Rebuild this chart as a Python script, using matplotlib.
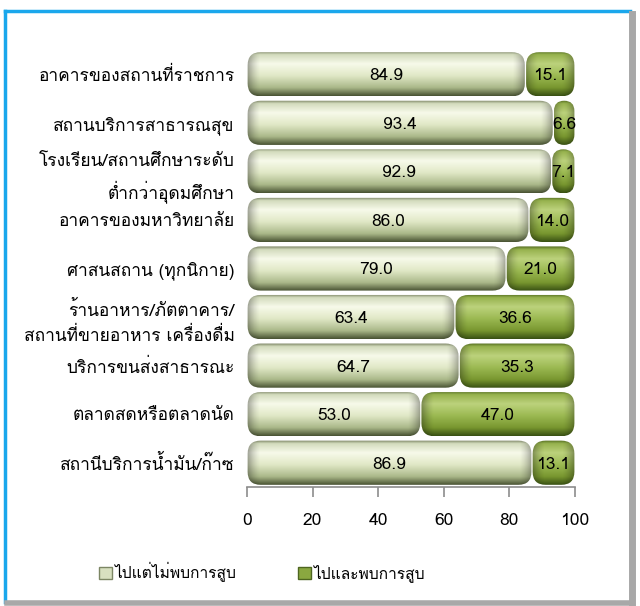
import matplotlib
matplotlib.use("Agg")
import matplotlib.pyplot as plt
import numpy as np
from matplotlib.colors import LinearSegmentedColormap
from matplotlib.lines import Line2D
from matplotlib.patches import FancyBboxPatch, Patch

plt.rcParams["font.family"] = ["Loma", "DejaVu Sans"]

categories = [
    "อาคารของสถานที่ราชการ",
    "สถานบริการสาธารณสุข",
    "โรงเรียน/สถานศึกษาระดับ\nต่ำกว่าอุดมศึกษา",
    "อาคารของมหาวิทยาลัย",
    "ศาสนสถาน (ทุกนิกาย)",
    "ร้านอาหาร/ภัตตาคาร/\nสถานที่ขายอาหาร เครื่องดื่ม",
    "บริการขนส่งสาธารณะ",
    "ตลาดสดหรือตลาดนัด",
    "สถานีบริการน้ำมัน/ก๊าซ",
]
went_not_seen = [84.9, 93.4, 92.9, 86.0, 79.0, 63.4, 64.7, 53.0, 86.9]
went_seen = [15.1, 6.6, 7.1, 14.0, 21.0, 36.6, 35.3, 47.0, 13.1]
series_names = ["ไปแต่ไม่พบการสูบ", "ไปและพบการสูบ"]
x_ticks = [0, 20, 40, 60, 80, 100]

# vertical shading of the "tube" bars, top -> bottom
light_cmap = LinearSegmentedColormap.from_list(
    "light", [(0.0, "#7d8666"), (0.07, "#d3dbbd"), (0.28, "#f7faea"),
              (0.55, "#e0e8c6"), (0.82, "#aab889"), (1.0, "#4a5434")])
dark_cmap = LinearSegmentedColormap.from_list(
    "dark", [(0.0, "#566f22"), (0.07, "#96b24e"), (0.28, "#bcd27c"),
             (0.55, "#9bb952"), (0.82, "#78962f"), (1.0, "#3a5214")])

W, H = 640, 606
fig = plt.figure(figsize=(W / 100, H / 100), dpi=100)
ax = fig.add_axes([247 / W, 1 - 487 / H, 328 / W, 437 / H])

y = np.arange(len(categories))
bars1 = ax.barh(y, went_not_seen, height=0.91, color="none")
bars2 = ax.barh(y, went_seen, left=went_not_seen, height=0.91, color="none")

# data units per pixel, used to keep the rounded caps circular
px_x = 100 / 328
px_y = len(categories) / 437
grad = np.linspace(0, 1, 64).reshape(-1, 1)


def _tube(bar, cmap):
    x0, y0 = bar.get_x(), bar.get_y()
    w, h = bar.get_width(), bar.get_height()
    r = min(13 * px_x, (w - 0.4) / 2)
    patch = FancyBboxPatch((x0 + 0.2, y0), w - 0.4, h,
                           boxstyle=f"round,pad=0,rounding_size={r}",
                           mutation_aspect=px_y / px_x,
                           facecolor="none", edgecolor="none")
    ax.add_patch(patch)
    im = ax.imshow(grad, cmap=cmap, aspect="auto", interpolation="bilinear",
                   extent=(x0, x0 + w, y0 + h, y0), zorder=2)
    im.set_clip_path(patch)
    # darker rounded ends
    n = 200
    xs = np.linspace(0, w, n)
    d = np.minimum(xs, w - xs) / max(r, 1e-6)
    shade = np.zeros((1, n, 4))
    shade[0, :, 3] = 0.35 * np.clip(1 - d, 0, 1) ** 1.5
    sh = ax.imshow(shade, aspect="auto", interpolation="bilinear",
                   extent=(x0, x0 + w, y0 + h, y0), zorder=2.1)
    sh.set_clip_path(patch)


for b in bars1:
    _tube(b, light_cmap)
for b in bars2:
    _tube(b, dark_cmap)

ax.set_xlim(0, 100)
ax.set_ylim(len(categories) - 0.5, -0.5)

for i in range(len(categories)):
    ax.text(went_not_seen[i] / 2, y[i] + 0.04, f"{went_not_seen[i]:.1f}",
            ha="center", va="center", fontsize=12.5, zorder=3)
    ax.text(went_not_seen[i] + went_seen[i] / 2, y[i] + 0.04, f"{went_seen[i]:.1f}",
            ha="center", va="center", fontsize=12.5, zorder=3)

ax.set_yticks(y)
ax.set_yticklabels(categories, fontsize=12.5, linespacing=1.55)
ax.tick_params(axis="y", length=0, pad=9)
ax.set_xticks(x_ticks)
ax.tick_params(axis="x", length=7, width=1.2, color="#8c8c8c", pad=12, labelsize=12.5)
for side in ("left", "right", "top"):
    ax.spines[side].set_visible(False)
ax.spines["bottom"].set_color("#8c8c8c")
ax.spines["bottom"].set_linewidth(1.2)
ax.patch.set_visible(False)

handles = [Patch(facecolor="#d8e0c0", edgecolor="#7c8664"),
           Patch(facecolor="#8aa840", edgecolor="#4e6620")]
fig.legend(handles, series_names, loc="center", bbox_to_anchor=(262 / W, 1 - 572 / H),
           ncol=2, frameon=False, fontsize=11.2, handlelength=0.8, handleheight=0.8,
           handletextpad=0.15, columnspacing=4.0)

# frame: blue top/left, grey shadow right/bottom
fig.add_artist(Line2D([5 / W, 630 / W], [1 - 11 / H, 1 - 11 / H], color="#1aa7ec", lw=2.5))
fig.add_artist(Line2D([5 / W, 5 / W], [1 - 11 / H, 1 - 602 / H], color="#1aa7ec", lw=2.5))
fig.add_artist(Line2D([632 / W, 632 / W], [1 - 14 / H, 1 - 604 / H], color="#a8a8a8", lw=5))
fig.add_artist(Line2D([7 / W, 632 / W], [1 - 603 / H, 1 - 603 / H], color="#a8a8a8", lw=4))

fig.savefig("out.png", dpi=100)
